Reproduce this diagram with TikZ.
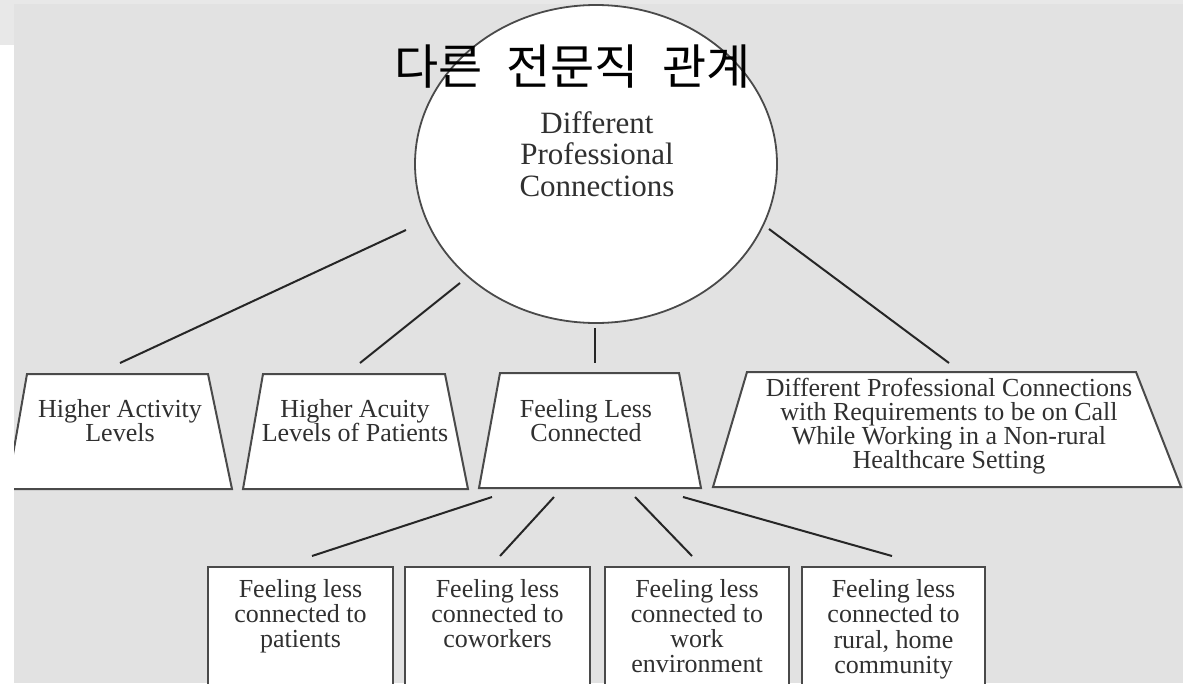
\documentclass[tikz,border=0pt]{standalone}
\usepackage{fontspec}
\setmainfont{Liberation Serif}
\newfontfamily\krfont[WordSpace=2.2]{Noto Sans CJK KR}
\usetikzlibrary{shapes.geometric}
\definecolor{stripgray}{HTML}{E8E8E8}
\definecolor{panelgray}{HTML}{E2E2E2}
\definecolor{edgecol}{HTML}{4A4A4A}
\definecolor{linkcol}{HTML}{262626}
\definecolor{labelcol}{HTML}{303030}
\begin{document}
\begin{tikzpicture}[x=1pt,y=-1pt,
  boxline/.style={draw=edgecol,line width=2pt,fill=white,line join=miter},
  link/.style={draw=linkcol,line width=2pt},
  lbl/.style={text=labelcol,align=center,inner sep=0pt,anchor=north,
              font=\fontsize{26}{24.5}\selectfont},
  hublbl/.style={text=labelcol,align=center,inner sep=0pt,anchor=north,
              font=\fontsize{31}{31.5}\selectfont},
  title/.style={text=black,inner sep=0pt,font=\krfont\fontsize{48}{52}\selectfont}]

% canvas
\useasboundingbox (0,0) rectangle (1183,683);
\fill[stripgray] (0,0) rectangle (1183,683);
\fill[panelgray] (14,4) rectangle (1183,683);

% central ellipse
\node[ellipse,draw=edgecol,line width=1.8pt,fill=white,inner sep=0pt,
      minimum width=362pt,minimum height=318pt] (hub) at (596,164) {};
\node[hublbl] (hubtxt) at (597,111) {Different\\Professional\\Connections};

% first-level trapezia
\coordinate (t1a) at (27,374);  \coordinate (t1b) at (208,374);
\coordinate (t1c) at (232,489); \coordinate (t1d) at (7,489);
\draw[boxline] (t1a) -- (t1b) -- (t1c) -- (t1d) -- cycle;
\node[lbl] (t1) at (120,399) {Higher Activity\\Levels};

\coordinate (t2a) at (263,374); \coordinate (t2b) at (445,374);
\coordinate (t2c) at (468,489); \coordinate (t2d) at (243,489);
\draw[boxline] (t2a) -- (t2b) -- (t2c) -- (t2d) -- cycle;
\node[lbl] (t2) at (355,399) {Higher Acuity\\Levels of Patients};

\coordinate (t3a) at (500,373); \coordinate (t3b) at (679,373);
\coordinate (t3c) at (701,488); \coordinate (t3d) at (479,488);
\draw[boxline] (t3a) -- (t3b) -- (t3c) -- (t3d) -- cycle;
\node[lbl] (t3) at (586,399) {Feeling Less\\Connected};

\coordinate (t4a) at (747,372); \coordinate (t4b) at (1136,372);
\coordinate (t4c) at (1181,487); \coordinate (t4d) at (713,487);
\draw[boxline] (t4a) -- (t4b) -- (t4c) -- (t4d) -- cycle;
\node[lbl,font=\fontsize{26}{24}\selectfont] (t4) at (949,378) {Different Professional Connections\\with Requirements to be on Call\\While Working in a Non-rural\\Healthcare Setting};

% second-level boxes (running off the bottom edge)
\draw[boxline] (208,567) rectangle (393,700);
\node[lbl,font=\fontsize{26}{25}\selectfont] (b1) at (300.5,579) {Feeling less\\connected to\\patients};
\draw[boxline] (405,567) rectangle (590,700);
\node[lbl,font=\fontsize{26}{25}\selectfont] (b2) at (497.5,579) {Feeling less\\connected to\\coworkers};
\draw[boxline] (605,567) rectangle (789,700);
\node[lbl,font=\fontsize{26}{25}\selectfont] (b3) at (697,579) {Feeling less\\connected to\\work\\environment};
\draw[boxline] (802,567) rectangle (985,700);
\node[lbl,font=\fontsize{26}{25.5}\selectfont] (b4) at (893.5,579) {Feeling less\\connected to\\rural, home\\community};

% connector end points
\coordinate (h1) at (406,230); \coordinate (t1in) at (120,363);
\coordinate (h2) at (460,283); \coordinate (t2in) at (360,363);
\coordinate (h3) at (595,328); \coordinate (t3in) at (595,363);
\coordinate (h4) at (769,229); \coordinate (t4in) at (949,363);
\coordinate (d1) at (492,497); \coordinate (b1in) at (312,556);
\coordinate (d2) at (554,497); \coordinate (b2in) at (500,556);
\coordinate (d3) at (635,497); \coordinate (b3in) at (692,556);
\coordinate (d4) at (683,497); \coordinate (b4in) at (892,556);

\draw[link] (h1) -- (t1in);
\draw[link] (h2) -- (t2in);
\draw[link] (h3) -- (t3in);
\draw[link] (h4) -- (t4in);
\draw[link] (d1) -- (b1in);
\draw[link] (d2) -- (b2in);
\draw[link] (d3) -- (b3in);
\draw[link] (d4) -- (b4in);

% white margin strip on the left
\fill[white] (0,45) rectangle (14,683);

% heading
\node[title] (head) at (572.5,67) {다른 전문직 관계};
\end{tikzpicture}
\end{document}
